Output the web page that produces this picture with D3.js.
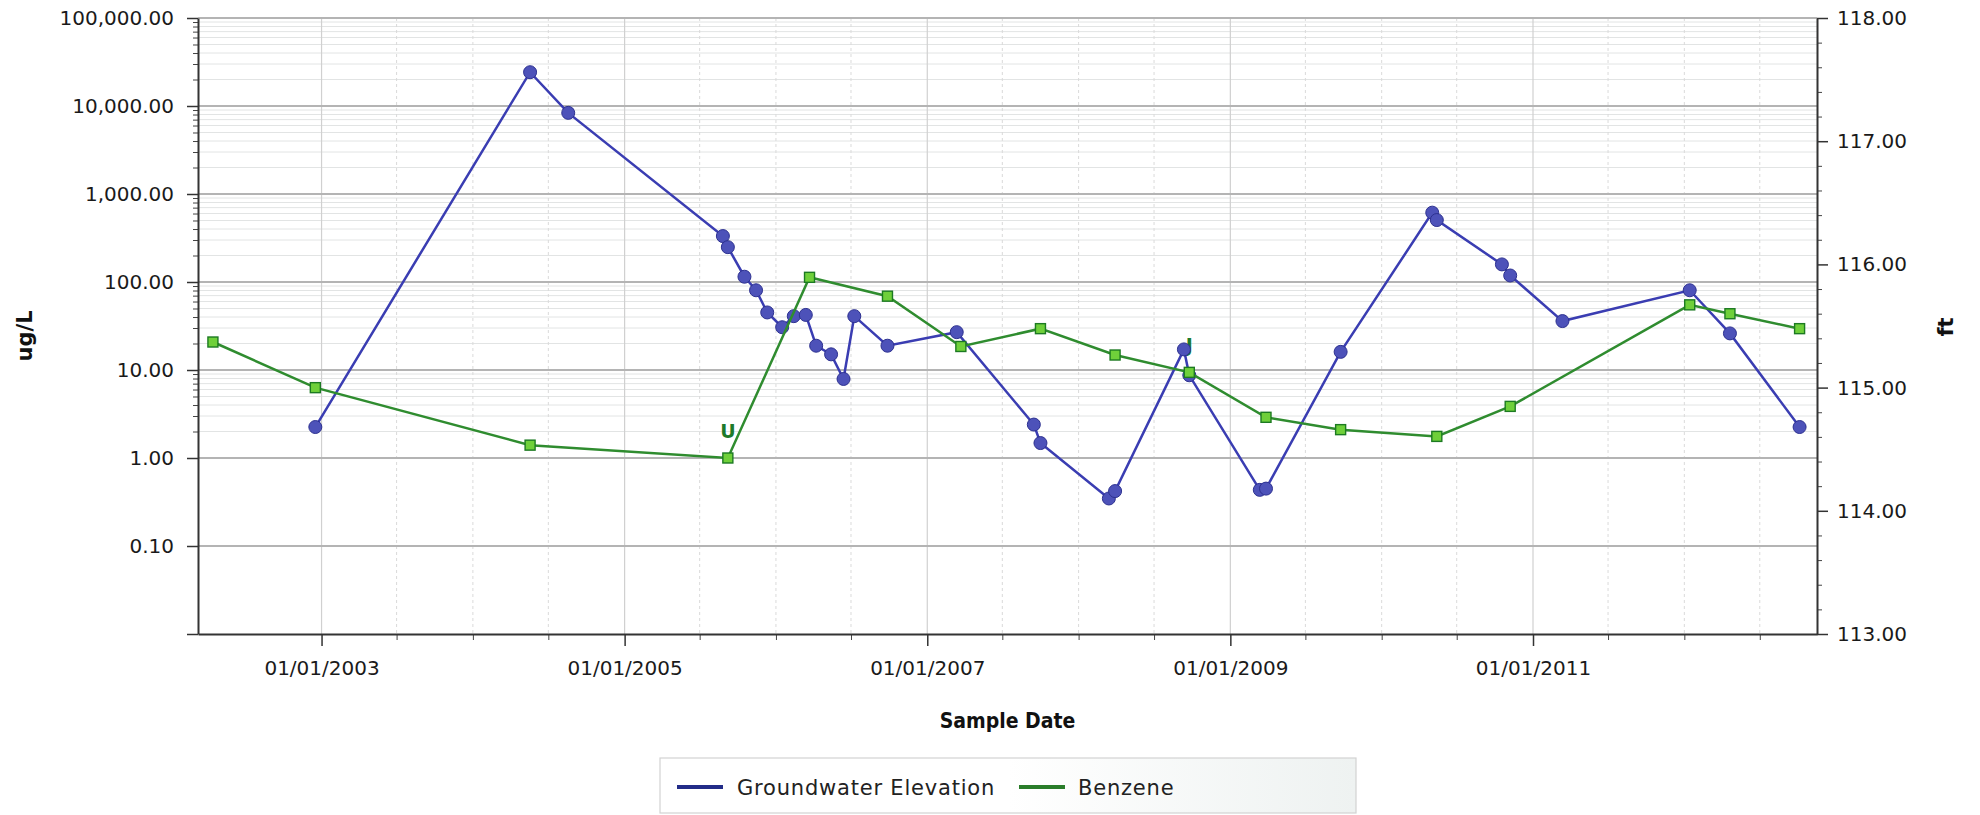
<!DOCTYPE html>
<html><head><meta charset="utf-8">
<script src="https://cdn.jsdelivr.net/npm/d3@7/dist/d3.min.js"></script>
<style>
html,body{margin:0;padding:0;background:#fff;}
svg{display:block;font-family:"DejaVu Sans",sans-serif;}
</style></head><body><svg id="c" width="1980" height="815"></svg>
<script>
// ---------- data ----------
const benzeneDates = ["2002-04-14","2002-12-17","2004-05-18","2005-09-07","2006-03-23","2006-09-27","2007-03-23","2007-10-01","2008-03-29","2008-09-24","2009-03-28","2009-09-24","2010-05-14","2010-11-07","2012-01-14","2012-04-20","2012-10-05"];
const benzeneValues = [20.8,6.3,1.4,1.0,113,69,18.5,29.5,14.8,9.4,2.9,2.1,1.76,3.86,55,43.6,29.5];
const benzeneQualifiers = ["","","","U","","","","","","J","","","","","","",""];
const elevationDates = ["2002-12-17","2004-05-18","2004-08-18","2005-08-26","2005-09-07","2005-10-17","2005-11-14","2005-12-11","2006-01-16","2006-02-13","2006-03-14","2006-04-08","2006-05-14","2006-06-13","2006-07-09","2006-09-27","2007-03-13","2007-09-15","2007-10-01","2008-03-14","2008-03-29","2008-09-11","2008-09-24","2009-03-13","2009-03-28","2009-09-24","2010-05-03","2010-05-14","2010-10-18","2010-11-07","2011-03-13","2012-01-14","2012-04-20","2012-10-05"];
const elevationValues = [114.68,117.56,117.23,116.23,116.14,115.90,115.79,115.61,115.49,115.58,115.59,115.34,115.27,115.07,115.58,115.34,115.45,114.70,114.55,114.10,114.16,115.31,115.10,114.17,114.18,115.29,116.42,116.36,116.00,115.91,115.54,115.79,115.44,114.68];
const leftTickValues = [0.01,0.1,1,10,100,1000,10000,100000];
const rightTickValues = [113,114,115,116,117,118];
const xMajorTicks = ["2003-01-01","2005-01-01","2007-01-01","2009-01-01","2011-01-01"];
const xDomain = ["2002-03-09","2012-11-16"];
const seriesNames = ["Groundwater Elevation","Benzene"];
const axisTitles = {left:"ug/L", right:"ft", bottom:"Sample Date"};

// ---------- layout ----------
const L=198,R=1817,T=18,B=634;
const parse=d3.timeParse("%Y-%m-%d");
const svg=d3.select("#c");
const x=d3.scaleTime().domain(xDomain.map(parse)).range([L,R]);
const yL=d3.scaleLog().domain([0.01,100000]).range([B,T]);
const yR=d3.scaleLinear().domain([113,118]).range([B,T]);

const minorLog=[];
for(let e=0;e<=4;e++) for(let k=2;k<=9;k++) minorLog.push(k*Math.pow(10,e));
const majorDates=xMajorTicks.map(parse);
const minorDates=d3.timeMonth.every(6).range(parse("2003-07-01"),parse("2012-07-02"))
  .filter(d=>!majorDates.some(m=>+m===+d));
const rightMinor=d3.range(113,118.001,0.2).filter(v=>Math.abs(v-Math.round(v))>1e-6);

// ---------- grid ----------
const grid=svg.append("g");
grid.selectAll(".hmin").data(minorLog).join("line")
  .attr("x1",L).attr("x2",R).attr("y1",d=>yL(d)).attr("y2",d=>yL(d))
  .attr("stroke","#e2e4e4").attr("stroke-width",1);
grid.selectAll(".vmin").data(minorDates).join("line")
  .attr("x1",d=>x(d)).attr("x2",d=>x(d)).attr("y1",T).attr("y2",B)
  .attr("stroke","#dadada").attr("stroke-width",1).attr("stroke-dasharray","3,3");
grid.selectAll(".vmaj").data(majorDates).join("line")
  .attr("x1",d=>x(d)).attr("x2",d=>x(d)).attr("y1",T).attr("y2",B)
  .attr("stroke","#d0d0d0").attr("stroke-width",1.2);
grid.selectAll(".hmaj").data(leftTickValues.filter(v=>v>0.01)).join("line")
  .attr("x1",L).attr("x2",R).attr("y1",d=>yL(d)).attr("y2",d=>yL(d))
  .attr("stroke","#b4b4b4").attr("stroke-width",2);

// ---------- axes ----------
const fmt=d3.format(",.2f");
function styleAxis(g){
  g.select(".domain").attr("stroke","#333").attr("stroke-width",2);
  g.selectAll(".tick line").attr("stroke","#333").attr("stroke-width",1.5);
  g.selectAll("text").attr("fill","#1a1a1a").style("font-size","20px").style("font-family","DejaVu Sans");
}
svg.append("g").attr("transform",`translate(${L},0)`)
  .call(d3.axisLeft(yL).tickValues(minorLog).tickSize(5).tickFormat(""))
  .call(g=>{g.select(".domain").remove();g.selectAll(".tick line").attr("stroke","#444");});
svg.append("g").attr("transform",`translate(${L},0)`)
  .call(d3.axisLeft(yL).tickValues(leftTickValues).tickSize(11).tickSizeOuter(0).tickPadding(13)
    .tickFormat(d=>d<0.05?"":fmt(d)))
  .call(styleAxis);
svg.append("g").attr("transform",`translate(${R},0)`)
  .call(d3.axisRight(yR).tickValues(rightMinor).tickSize(5).tickFormat(""))
  .call(g=>{g.select(".domain").remove();g.selectAll(".tick line").attr("stroke","#444");});
svg.append("g").attr("transform",`translate(${R},0)`)
  .call(d3.axisRight(yR).tickValues(rightTickValues).tickSize(11).tickSizeOuter(0).tickPadding(9)
    .tickFormat(d3.format(".2f")))
  .call(styleAxis);
svg.append("g").attr("transform",`translate(0,${B})`)
  .call(d3.axisBottom(x).tickValues(minorDates).tickSize(6).tickFormat(""))
  .call(g=>{g.select(".domain").remove();g.selectAll(".tick line").attr("stroke","#444");});
svg.append("g").attr("transform",`translate(0,${B})`)
  .call(d3.axisBottom(x).tickValues(majorDates).tickSize(12).tickSizeOuter(0).tickPadding(15)
    .tickFormat(d3.timeFormat("%m/%d/%Y")))
  .call(styleAxis);

// axis titles
svg.append("text").attr("transform",`translate(32,${336}) rotate(-90)`)
  .attr("text-anchor","middle").attr("font-weight","bold").attr("font-size","21px").attr("fill","#111")
  .text(axisTitles.left);
svg.append("text").attr("transform",`translate(1953,${327}) rotate(-90)`)
  .attr("text-anchor","middle").attr("font-weight","bold").attr("font-size","21px").attr("fill","#111")
  .text(axisTitles.right);
svg.append("text").attr("x",(L+R)/2).attr("y",728)
  .attr("text-anchor","middle").attr("font-weight","bold").attr("font-size","21px")
  .style("font-family","'Liberation Sans Narrow','DejaVu Sans Condensed',sans-serif").attr("fill","#111")
  .text(axisTitles.bottom);

// ---------- series ----------
const elev=elevationDates.map((d,i)=>({date:parse(d),v:elevationValues[i]}));
const benz=benzeneDates.map((d,i)=>({date:parse(d),v:benzeneValues[i],q:benzeneQualifiers[i]}));

// qualifier labels
svg.selectAll(".q").data(benz.filter(d=>d.q)).join("text")
  .attr("x",d=>x(d.date)).attr("y",d=>yL(d.v)-20).attr("text-anchor","middle")
  .attr("font-weight","bold").attr("font-size","19px").attr("fill","#1d7a2a").text(d=>d.q);

const blue="#3a3db2", green="#2f8c2f";
svg.append("path").datum(elev)
  .attr("d",d3.line().x(d=>x(d.date)).y(d=>yR(d.v)))
  .attr("fill","none").attr("stroke",blue).attr("stroke-width",2.5);
svg.selectAll(".bc").data(elev).join("circle")
  .attr("cx",d=>x(d.date)).attr("cy",d=>yR(d.v)).attr("r",6.5)
  .attr("fill","#4d52b9").attr("stroke","#2d3190").attr("stroke-width",1);

svg.append("path").datum(benz)
  .attr("d",d3.line().x(d=>x(d.date)).y(d=>yL(d.v)))
  .attr("fill","none").attr("stroke",green).attr("stroke-width",2.5);
svg.selectAll(".gs").data(benz).join("rect")
  .attr("x",d=>x(d.date)-5).attr("y",d=>yL(d.v)-5).attr("width",10).attr("height",10)
  .attr("fill","#6fd03a").attr("stroke","#1c7a22").attr("stroke-width",1.4);

// ---------- legend ----------
const defs=svg.append("defs");
const lg=defs.append("linearGradient").attr("id","lg").attr("x1","0").attr("x2","1");
lg.append("stop").attr("offset","0.5").attr("stop-color","#ffffff");
lg.append("stop").attr("offset","1").attr("stop-color","#eef2f1");
const leg=svg.append("g");
leg.append("rect").attr("x",660).attr("y",758).attr("width",696).attr("height",55)
  .attr("fill","url(#lg)").attr("stroke","#d2d2d2").attr("stroke-width",1.2);
const legItems=[{name:seriesNames[0],color:"#222c88",x1:677,tx:737},{name:seriesNames[1],color:"#2a7d2a",x1:1019,tx:1078}];
legItems.forEach(it=>{
  leg.append("line").attr("x1",it.x1).attr("x2",it.x1+46).attr("y1",787).attr("y2",787)
    .attr("stroke",it.color).attr("stroke-width",4);
  leg.append("text").attr("x",it.tx).attr("y",795).attr("font-size","21px").attr("letter-spacing","0.8px")
    .attr("fill","#222").text(it.name);
});
</script></body></html>
